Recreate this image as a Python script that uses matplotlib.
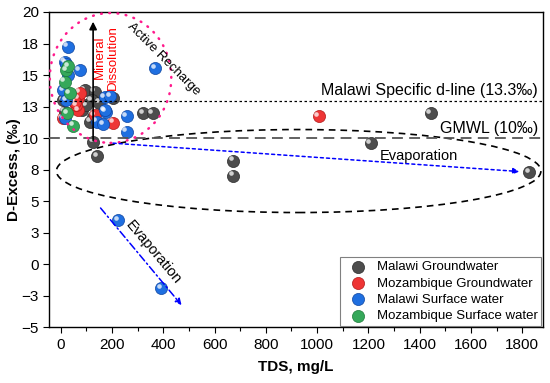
import matplotlib.pyplot as plt
from matplotlib.patches import Ellipse
from matplotlib.transforms import ScaledTranslation

plt.rcParams['font.family'] = ['Liberation Sans', 'DejaVu Sans']

#  ____________________ data ____________________ #

mw_gw_tds = [9, 16, 81, 94, 133, 120, 114, 126, 205, 126, 142, 322, 358, 673, 672, 1209, 1444, 1828, 100, 150]
mw_gw_dex = [13.0, 12.1, 12.2, 13.8, 13.68, 13.0, 11.3, 11.7, 13.15, 9.72, 8.58, 11.97, 11.97, 8.21, 7.0, 9.61, 11.97, 7.31, 12.6, 12.8]

mz_gw_tds = [68, 68, 7, 74, 60, 133, 205, 1007, 55]
mz_gw_dex = [13.15, 12.2, 11.57, 13.6, 12.6, 11.83, 11.22, 11.75, 12.9]

mw_sw_tds = [28, 74, 16, 22, 29, 9, 22, 16, 172, 192, 176, 140, 166, 172, 258, 257, 368, 224, 391]
mw_sw_dex = [17.25, 15.4, 16.06, 15.9, 15.0, 13.8, 13.0, 11.57, 13.24, 13.3, 12.1, 11.3, 11.1, 12.2, 11.75, 10.5, 15.53, 3.5, -1.9]

mz_sw_tds = [22, 16, 35, 25, 48, 29]
mz_sw_dex = [15.4, 14.47, 13.55, 11.97, 11.0, 15.7]

y_ticks = [20, 17.5, 15, 12.5, 10, 7.5, 5, 2.5, 0, -2.5, -5]
y_tick_labels = ['20', '18', '15', '13', '10', '8', '5', '3', '0', '\u22123', '\u22125']
x_ticks = [0, 200, 400, 600, 800, 1000, 1200, 1400, 1600, 1800]

groups = [
    (mw_gw_tds, mw_gw_dex, 'Malawi Groundwater', '#4d4d4d', '#2a2a2a'),
    (mz_gw_tds, mz_gw_dex, 'Mozambique Groundwater', '#ee3535', '#b01818'),
    (mw_sw_tds, mw_sw_dex, 'Malawi Surface water', '#1f6fe0', '#0f45a0'),
    (mz_sw_tds, mz_sw_dex, 'Mozambique Surface water', '#35a85a', '#1d7a3a'),
]

#  ____________________ plot ____________________ #

fig = plt.figure(figsize=(5.5, 3.83), dpi=100)
ax = fig.add_axes([0.0896, 0.1454, 0.8971, 0.8233])

# small offset for the sphere highlight
shine = ax.transData + ScaledTranslation(-1.8 / 72, 1.8 / 72, fig.dpi_scale_trans)

handles = []
for i, (xs, ys, label, col, edge) in enumerate(groups):
    h = ax.scatter(xs, ys, s=76, color=col, edgecolors=edge, linewidths=0.5,
                   label=label, zorder=3 + i)
    ax.scatter(xs, ys, s=11, color='white', alpha=0.75, linewidths=0,
               transform=shine, zorder=3 + i)
    handles.append(h)

# reference lines (the d-line sits just under the 13 tick in the original)
ax.axhline(12.97, color='black', lw=0.9, ls=(0, (2, 2)), zorder=8)
ax.axhline(10, color='#555555', lw=1.3, ls=(0, (6, 3.5)), zorder=8)
ax.text(1862, 13.15, 'Malawi Specific d-line (13.3\u2030)', ha='right', va='bottom', fontsize=11.5)
ax.text(1862, 10.2, 'GMWL (10\u2030)', ha='right', va='bottom', fontsize=11.5)

# active recharge circle and arrow
ax.add_patch(Ellipse((194, 14.77), 474, 10.3, fill=False, ec='#ff1a8c', lw=1.8,
                     ls=(0, (0.3, 3.0)), capstyle='round', zorder=9))
ax.annotate('', xy=(126, 19.45), xytext=(126, 9.6),
            arrowprops=dict(arrowstyle='-|>', color='black', lw=1.2, mutation_scale=11),
            zorder=9)
ax.text(177, 16.4, 'Mineral\nDissolution', color='red', rotation=90, ha='center', va='center',
        fontsize=9.5, linespacing=1.05, zorder=9)
ax.text(403, 16.3, 'Active Recharge', rotation=-45, ha='center', va='center',
        rotation_mode='anchor', fontsize=9.5, zorder=9)

# evaporation ellipse and arrows
ax.add_patch(Ellipse((928, 7.39), 1890, 6.58, fill=False, ec='black', lw=1.2,
                     ls=(0, (4, 3)), zorder=2))
ax.annotate('', xy=(1789, 7.35), xytext=(204, 9.6),
            arrowprops=dict(arrowstyle='-|>', color='#0000ff', lw=1.1, ls=(0, (2, 2)),
                            mutation_scale=9, shrinkA=0, shrinkB=0), zorder=9)
ax.text(1397, 8.58, 'Evaporation', ha='center', va='center', fontsize=10.5)
ax.annotate('', xy=(471, -3.24), xytext=(155, 4.46),
            arrowprops=dict(arrowstyle='-|>', color='#0000ff', lw=1.1, ls=(0, (5, 2, 1, 2)),
                            mutation_scale=9, shrinkA=0, shrinkB=0), zorder=9)
ax.text(360, 0.97, 'Evaporation', rotation=-50, ha='center', va='center',
        rotation_mode='anchor', fontsize=10.5)

# axes
ax.set_xlim(-45, 1880)
ax.set_ylim(-5, 20)
ax.set_xticks(x_ticks)
ax.set_xticks(range(100, 1900, 200), minor=True)
ax.set_yticks(y_ticks)
ax.set_yticklabels(y_tick_labels)
ax.tick_params(axis='both', which='major', direction='out', length=4, width=0.8, labelsize=11)
ax.tick_params(axis='x', which='minor', direction='out', length=3, width=0.8)
for sp in ax.spines.values():
    sp.set_linewidth(1.0)

ax.set_xlabel('TDS, mg/L', fontsize=11, fontweight='bold', labelpad=6)
ax.set_ylabel('D-Excess, (\u2030)', fontsize=11, fontweight='bold', labelpad=0)

leg = ax.legend(handles=handles, loc='lower right', bbox_to_anchor=(1, 0), borderaxespad=0.1,
                fontsize=9.5, frameon=True, fancybox=False, edgecolor='#808080',
                framealpha=1, labelspacing=0.3, handlelength=2.2, handletextpad=0.3,
                borderpad=0.3, markerscale=1.0)
leg.get_frame().set_linewidth(0.8)
leg.set_zorder(12)

fig.savefig('out.png', dpi=100)
